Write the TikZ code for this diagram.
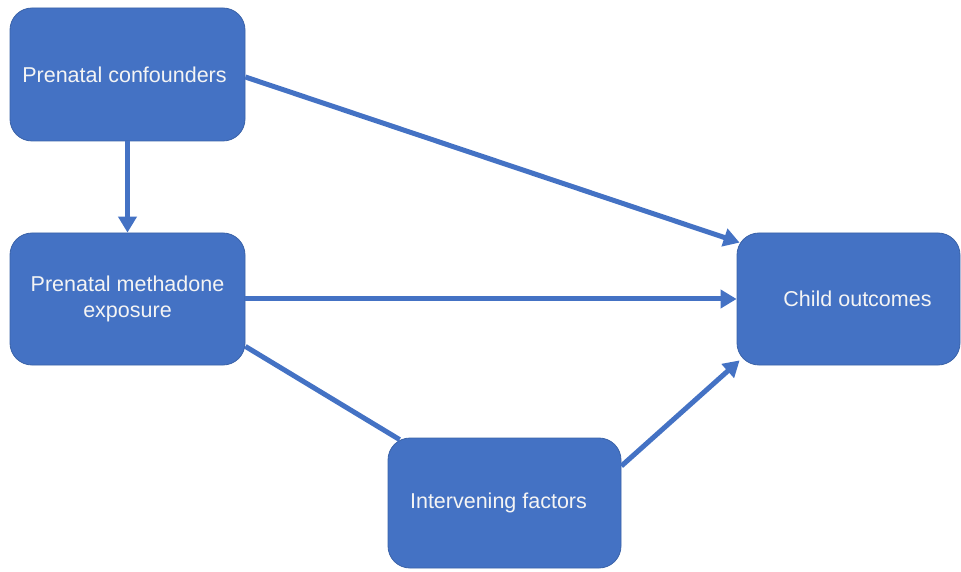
\documentclass[tikz,border=0pt]{standalone}
\usepackage{fontspec}
\setmainfont{Liberation Sans}
\usetikzlibrary{arrows.meta,calc}
\definecolor{boxblue}{HTML}{4472C4}
\definecolor{boxedge}{HTML}{3A62A8}
\definecolor{txt}{HTML}{F4F4F4}
\begin{document}
\begin{tikzpicture}[x=1pt,y=1pt,
  box/.style={rectangle, rounded corners=22pt, fill=boxblue, draw=boxedge, line width=0.8pt,
    text=txt, align=center, font=\fontsize{21.5}{26}\selectfont, inner sep=0pt},
  conn/.style={draw=boxblue, line width=5pt},
  arr/.style={conn, -{Triangle[width=18pt,length=16pt]}}]
\useasboundingbox (0,0) rectangle (961,571);
\node[box, minimum width=235pt, minimum height=133pt] (pc) at (127.5,496.5) {Prenatal confounders\hspace*{6pt}};
\node[box, minimum width=235pt, minimum height=132pt] (pme) at (127.5,272) {Prenatal methadone\\exposure};
\node[box, minimum width=223pt, minimum height=132pt] (co) at (848.5,272) {\hspace*{18pt}Child outcomes};
\node[box, minimum width=233pt, minimum height=130pt] (if) at (504.5,68) {\raisebox{-4pt}{Intervening factors}\hspace*{12pt}};
\draw[arr] (pc.south) -- (pme.north);
\draw[arr] ($(pc.east)+(0,-2.5)$) -- ($(co.north west)+(3,-10)$);
\draw[arr] (pme.east) -- (co.west);
\draw[conn] ($(pme.south east)+(0,19)$) -- ($(if.north west)+(12,-2)$);
\draw[arr] ($(if.east)+(0,37)$) -- ($(co.south west)+(3,5)$);
\end{tikzpicture}
\end{document}
